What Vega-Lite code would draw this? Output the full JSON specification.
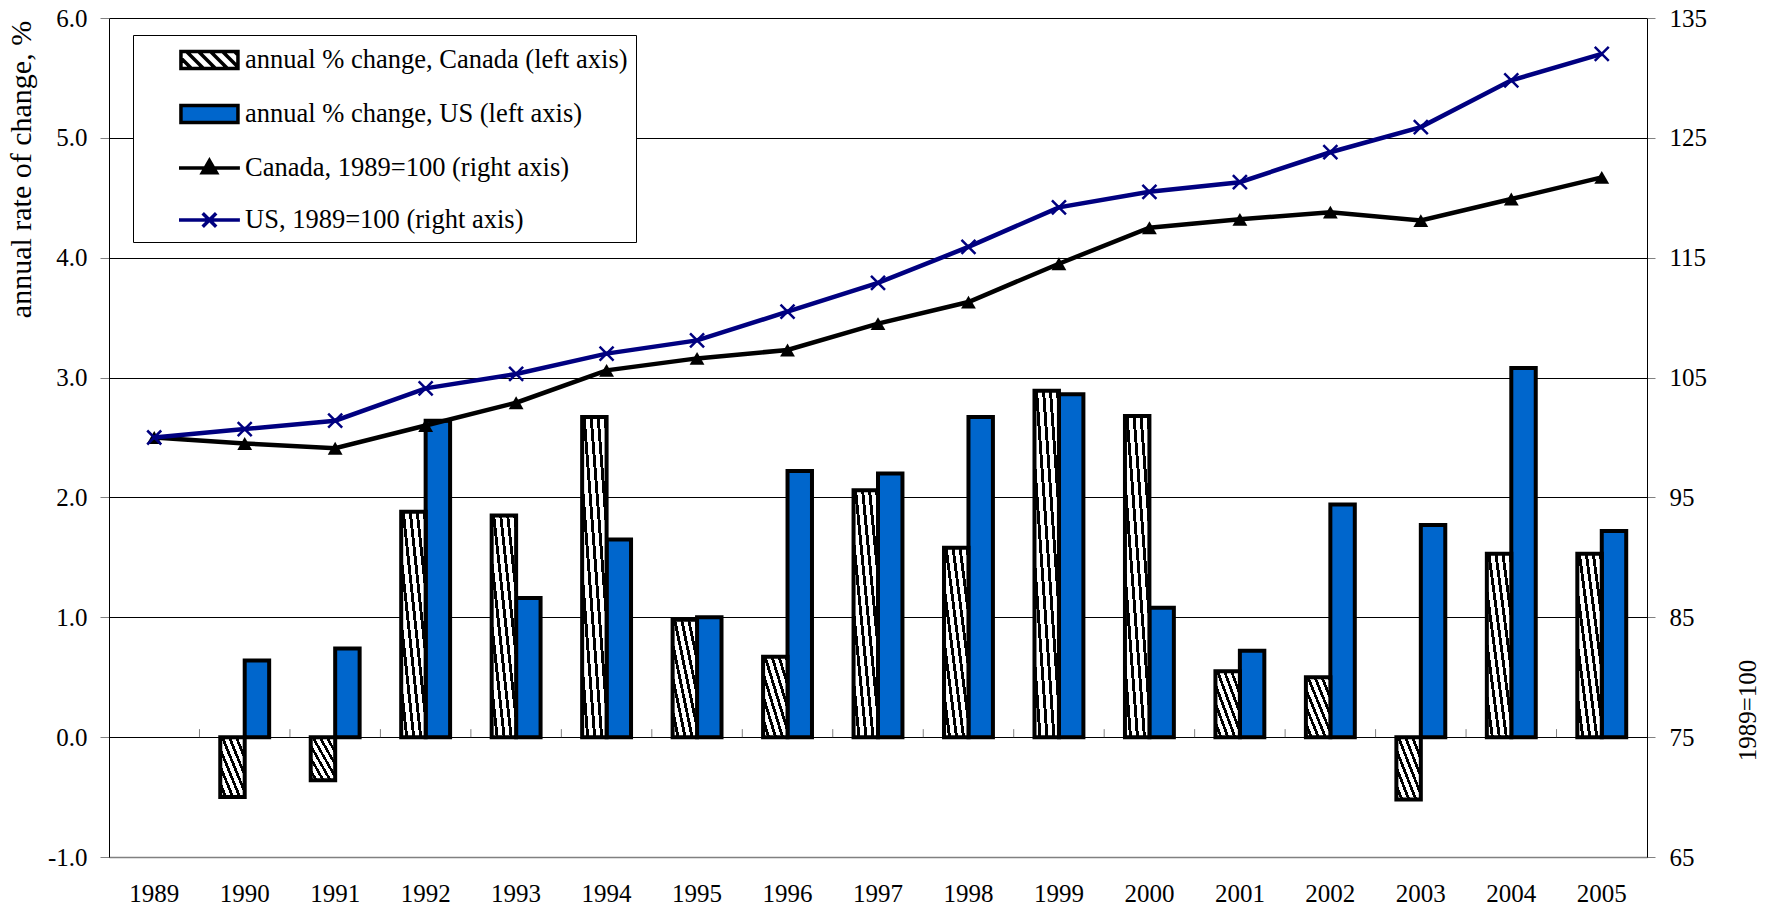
{
  "$schema": "https://vega.github.io/schema/vega-lite/v6.json",
  "autosize": {"type": "none"},
  "padding": {"left": 109, "top": 18, "right": 130, "bottom": 55},
  "width": 1538,
  "height": 839,
  "background": "white",
  "datasets": {
    "bars": [
      {"year": "1990", "series": "annual % change, Canada (left axis)", "pct": -0.50},
      {"year": "1991", "series": "annual % change, Canada (left axis)", "pct": -0.36},
      {"year": "1992", "series": "annual % change, Canada (left axis)", "pct": 1.88},
      {"year": "1993", "series": "annual % change, Canada (left axis)", "pct": 1.85},
      {"year": "1994", "series": "annual % change, Canada (left axis)", "pct": 2.67},
      {"year": "1995", "series": "annual % change, Canada (left axis)", "pct": 0.98},
      {"year": "1996", "series": "annual % change, Canada (left axis)", "pct": 0.67},
      {"year": "1997", "series": "annual % change, Canada (left axis)", "pct": 2.06},
      {"year": "1998", "series": "annual % change, Canada (left axis)", "pct": 1.58},
      {"year": "1999", "series": "annual % change, Canada (left axis)", "pct": 2.89},
      {"year": "2000", "series": "annual % change, Canada (left axis)", "pct": 2.68},
      {"year": "2001", "series": "annual % change, Canada (left axis)", "pct": 0.55},
      {"year": "2002", "series": "annual % change, Canada (left axis)", "pct": 0.50},
      {"year": "2003", "series": "annual % change, Canada (left axis)", "pct": -0.52},
      {"year": "2004", "series": "annual % change, Canada (left axis)", "pct": 1.53},
      {"year": "2005", "series": "annual % change, Canada (left axis)", "pct": 1.53},
      {"year": "1990", "series": "annual % change, US (left axis)", "pct": 0.64},
      {"year": "1991", "series": "annual % change, US (left axis)", "pct": 0.74},
      {"year": "1992", "series": "annual % change, US (left axis)", "pct": 2.64},
      {"year": "1993", "series": "annual % change, US (left axis)", "pct": 1.16},
      {"year": "1994", "series": "annual % change, US (left axis)", "pct": 1.65},
      {"year": "1995", "series": "annual % change, US (left axis)", "pct": 1.00},
      {"year": "1996", "series": "annual % change, US (left axis)", "pct": 2.22},
      {"year": "1997", "series": "annual % change, US (left axis)", "pct": 2.20},
      {"year": "1998", "series": "annual % change, US (left axis)", "pct": 2.67},
      {"year": "1999", "series": "annual % change, US (left axis)", "pct": 2.86},
      {"year": "2000", "series": "annual % change, US (left axis)", "pct": 1.08},
      {"year": "2001", "series": "annual % change, US (left axis)", "pct": 0.72},
      {"year": "2002", "series": "annual % change, US (left axis)", "pct": 1.94},
      {"year": "2003", "series": "annual % change, US (left axis)", "pct": 1.77},
      {"year": "2004", "series": "annual % change, US (left axis)", "pct": 3.08},
      {"year": "2005", "series": "annual % change, US (left axis)", "pct": 1.72}
    ],
    "lines": [
      {"year": "1989", "series": "Canada, 1989=100 (right axis)", "index": 100.0},
      {"year": "1990", "series": "Canada, 1989=100 (right axis)", "index": 99.5},
      {"year": "1991", "series": "Canada, 1989=100 (right axis)", "index": 99.1},
      {"year": "1992", "series": "Canada, 1989=100 (right axis)", "index": 101.0},
      {"year": "1993", "series": "Canada, 1989=100 (right axis)", "index": 102.9},
      {"year": "1994", "series": "Canada, 1989=100 (right axis)", "index": 105.6},
      {"year": "1995", "series": "Canada, 1989=100 (right axis)", "index": 106.6},
      {"year": "1996", "series": "Canada, 1989=100 (right axis)", "index": 107.3},
      {"year": "1997", "series": "Canada, 1989=100 (right axis)", "index": 109.5},
      {"year": "1998", "series": "Canada, 1989=100 (right axis)", "index": 111.3},
      {"year": "1999", "series": "Canada, 1989=100 (right axis)", "index": 114.5},
      {"year": "2000", "series": "Canada, 1989=100 (right axis)", "index": 117.5},
      {"year": "2001", "series": "Canada, 1989=100 (right axis)", "index": 118.2},
      {"year": "2002", "series": "Canada, 1989=100 (right axis)", "index": 118.8},
      {"year": "2003", "series": "Canada, 1989=100 (right axis)", "index": 118.1},
      {"year": "2004", "series": "Canada, 1989=100 (right axis)", "index": 119.9},
      {"year": "2005", "series": "Canada, 1989=100 (right axis)", "index": 121.7},
      {"year": "1989", "series": "US, 1989=100 (right axis)", "index": 100.0},
      {"year": "1990", "series": "US, 1989=100 (right axis)", "index": 100.7},
      {"year": "1991", "series": "US, 1989=100 (right axis)", "index": 101.4},
      {"year": "1992", "series": "US, 1989=100 (right axis)", "index": 104.1},
      {"year": "1993", "series": "US, 1989=100 (right axis)", "index": 105.3},
      {"year": "1994", "series": "US, 1989=100 (right axis)", "index": 107.0},
      {"year": "1995", "series": "US, 1989=100 (right axis)", "index": 108.1},
      {"year": "1996", "series": "US, 1989=100 (right axis)", "index": 110.5},
      {"year": "1997", "series": "US, 1989=100 (right axis)", "index": 112.9},
      {"year": "1998", "series": "US, 1989=100 (right axis)", "index": 115.9},
      {"year": "1999", "series": "US, 1989=100 (right axis)", "index": 119.2},
      {"year": "2000", "series": "US, 1989=100 (right axis)", "index": 120.5},
      {"year": "2001", "series": "US, 1989=100 (right axis)", "index": 121.3},
      {"year": "2002", "series": "US, 1989=100 (right axis)", "index": 123.8},
      {"year": "2003", "series": "US, 1989=100 (right axis)", "index": 125.9},
      {"year": "2004", "series": "US, 1989=100 (right axis)", "index": 129.8},
      {"year": "2005", "series": "US, 1989=100 (right axis)", "index": 132.0}
    ]
  },
  "layer": [
    {
      "layer": [
        {
          "data": {"name": "bars"},
          "transform": [{"filter": "datum.series === 'annual % change, US (left axis)'"}],
          "mark": {"type": "bar", "fill": "#0066CC", "stroke": "#000000", "strokeWidth": 4},
          "encoding": {
            "x": {
              "field": "year", "type": "ordinal",
              "scale": {"domain": ["1989","1990","1991","1992","1993","1994","1995","1996","1997","1998","1999","2000","2001","2002","2003","2004","2005"], "paddingInner": 0, "paddingOuter": 0},
              "axis": {"orient": "bottom", "title": null, "ticks": false, "tickSize": 0, "labelAngle": 0, "labelPadding": 24, "labelFont": "Liberation Serif", "labelFontSize": 25, "labelColor": "#000000", "domainColor": "#808080", "domainWidth": 1.5, "grid": false}
            },
            "xOffset": {
              "field": "series", "type": "nominal",
              "scale": {"domain": ["annual % change, Canada (left axis)", "annual % change, US (left axis)"], "paddingInner": 0, "paddingOuter": 0.85}
            },
            "y": {
              "field": "pct", "type": "quantitative",
              "scale": {"domain": [-1, 6], "nice": false, "zero": false},
              "axis": {
                "orient": "left",
                "values": [-1, 0, 1, 2, 3, 4, 5, 6],
                "labelExpr": "replace(format(datum.value, '.1f'), '\u2212', '-')",
                "grid": true, "gridColor": "#000000", "gridWidth": 1,
                "tickSize": 9, "tickColor": "#808080", "domainColor": "#000000",
                "labelPadding": 13, "labelFont": "Liberation Serif", "labelFontSize": 25, "labelColor": "#000000",
                "title": "annual rate of change, %",
                "titleFont": "Liberation Serif", "titleFontSize": 30, "titleFontWeight": "normal", "titleColor": "#000000",
                "titleAngle": 270, "titleAlign": "center", "titleBaseline": "middle",
                "titleX": -88, "titleY": 151
              }
            },
            "y2": {"datum": 0}
          }
        },
        {
          "data": {"name": "bars"},
          "transform": [{"filter": "datum.series === 'annual % change, Canada (left axis)'"}],
          "mark": {
            "type": "bar", "stroke": "#000000", "strokeWidth": 4,
            "fill": {
              "gradient": "linear", "x1": 1, "y1": 0, "x2": 0, "y2": 1,
              "stops": [
                {"offset": 0, "color": "#000000"}, {"offset": 0.06, "color": "#000000"},
                {"offset": 0.06, "color": "#ffffff"}, {"offset": 0.1429, "color": "#ffffff"},
                {"offset": 0.1429, "color": "#000000"}, {"offset": 0.2029, "color": "#000000"},
                {"offset": 0.2029, "color": "#ffffff"}, {"offset": 0.2857, "color": "#ffffff"},
                {"offset": 0.2857, "color": "#000000"}, {"offset": 0.3457, "color": "#000000"},
                {"offset": 0.3457, "color": "#ffffff"}, {"offset": 0.4286, "color": "#ffffff"},
                {"offset": 0.4286, "color": "#000000"}, {"offset": 0.4886, "color": "#000000"},
                {"offset": 0.4886, "color": "#ffffff"}, {"offset": 0.5714, "color": "#ffffff"},
                {"offset": 0.5714, "color": "#000000"}, {"offset": 0.6314, "color": "#000000"},
                {"offset": 0.6314, "color": "#ffffff"}, {"offset": 0.7143, "color": "#ffffff"},
                {"offset": 0.7143, "color": "#000000"}, {"offset": 0.7743, "color": "#000000"},
                {"offset": 0.7743, "color": "#ffffff"}, {"offset": 0.8571, "color": "#ffffff"},
                {"offset": 0.8571, "color": "#000000"}, {"offset": 0.9171, "color": "#000000"},
                {"offset": 0.9171, "color": "#ffffff"}, {"offset": 1, "color": "#ffffff"}
              ]
            }
          },
          "encoding": {
            "x": {"field": "year", "type": "ordinal"},
            "xOffset": {"field": "series", "type": "nominal"},
            "y": {"field": "pct", "type": "quantitative"},
            "y2": {"datum": 0}
          }
        },
        {
          "data": {"name": "bars"},
          "transform": [{"filter": "datum.series === 'annual % change, Canada (left axis)'"}],
          "mark": {"type": "rule", "stroke": "#808080", "strokeWidth": 1},
          "encoding": {
            "x": {"field": "year", "type": "ordinal", "bandPosition": 0},
            "y": {"datum": 0, "type": "quantitative"},
            "y2": {"datum": 0.067}
          }
        }
      ]
    },
    {
      "layer": [
        {
          "data": {"name": "lines"},
          "transform": [{"filter": "datum.series === 'Canada, 1989=100 (right axis)'"}],
          "mark": {"type": "line", "stroke": "#000000", "strokeWidth": 4.5},
          "encoding": {
            "x": {"field": "year", "type": "ordinal"},
            "y": {
              "field": "index", "type": "quantitative",
              "scale": {"domain": [65, 135], "nice": false, "zero": false},
              "axis": {
                "orient": "right",
                "values": [65, 75, 85, 95, 105, 115, 125, 135],
                "grid": false, "tickSize": 8, "tickColor": "#808080", "domainColor": "#000000",
                "labelPadding": 14, "labelFont": "Liberation Serif", "labelFontSize": 25, "labelColor": "#000000",
                "title": "1989=100",
                "titleFont": "Liberation Serif", "titleFontSize": 25, "titleFontWeight": "normal", "titleColor": "#000000",
                "titleAngle": 270, "titleAlign": "center", "titleBaseline": "middle",
                "titleX": 100, "titleY": 692
              }
            }
          }
        },
        {
          "data": {"name": "lines"},
          "transform": [{"filter": "datum.series === 'Canada, 1989=100 (right axis)'"}],
          "mark": {"type": "point", "shape": "triangle-up", "filled": true, "fill": "#000000", "stroke": null, "size": 220, "opacity": 1},
          "encoding": {
            "x": {"field": "year", "type": "ordinal"},
            "y": {"field": "index", "type": "quantitative"}
          }
        },
        {
          "data": {"name": "lines"},
          "transform": [{"filter": "datum.series === 'US, 1989=100 (right axis)'"}],
          "mark": {"type": "line", "stroke": "#000080", "strokeWidth": 4.5},
          "encoding": {
            "x": {"field": "year", "type": "ordinal"},
            "y": {"field": "index", "type": "quantitative"}
          }
        },
        {
          "data": {"name": "lines"},
          "transform": [{"filter": "datum.series === 'US, 1989=100 (right axis)'"}],
          "mark": {"type": "point", "shape": "M-1,-1L1,1M-1,1L1,-1", "filled": false, "stroke": "#000080", "strokeWidth": 2.5, "size": 196, "opacity": 1},
          "encoding": {
            "x": {"field": "year", "type": "ordinal"},
            "y": {"field": "index", "type": "quantitative"}
          }
        },
        {
          "data": {"name": "lines"},
          "transform": [{"filter": "false"}],
          "mark": {"type": "point", "filled": true, "opacity": 1, "strokeWidth": 3.5},
          "encoding": {
            "shape": {
              "field": "series", "type": "nominal",
              "scale": {
                "domain": ["annual % change, Canada (left axis)", "annual % change, US (left axis)", "Canada, 1989=100 (right axis)", "US, 1989=100 (right axis)"],
                "range": [
                  "M1.53,-0.567H5.33V0.567H1.53ZM1.53,-0.137L2.234,0.567M1.9,-0.567L3.034,0.567M2.7,-0.567L3.834,0.567M3.5,-0.567L4.634,0.567M4.3,-0.567L5.33,0.463M5.1,-0.567L5.33,-0.337",
                  "M1.53,-0.567H5.33V0.567H1.53Z",
                  "M1.4,0H5.46M3.43,-0.5L3.9,0.32L2.96,0.32Z",
                  "M1.4,0H5.46M2.98,-0.45L3.88,0.45M2.98,0.45L3.88,-0.45"
                ]
              },
              "legend": {"title": null, "labelExpr": "datum.label + '\u2003\u2003\u2002'"}
            },
            "fill": {
              "field": "series", "type": "nominal",
              "scale": {
                "domain": ["annual % change, Canada (left axis)", "annual % change, US (left axis)", "Canada, 1989=100 (right axis)", "US, 1989=100 (right axis)"],
                "range": ["#ffffff", "#0066CC", "#000000", "#000080"]
              },
              "legend": {"title": null, "labelExpr": "datum.label + '\u2003\u2003\u2002'"}
            },
            "stroke": {
              "field": "series", "type": "nominal",
              "scale": {
                "domain": ["annual % change, Canada (left axis)", "annual % change, US (left axis)", "Canada, 1989=100 (right axis)", "US, 1989=100 (right axis)"],
                "range": ["#000000", "#000000", "#000000", "#000080"]
              },
              "legend": {"title": null, "labelExpr": "datum.label + '\u2003\u2003\u2002'"}
            }
          }
        }
      ]
    }
  ],
  "resolve": {"scale": {"y": "independent"}},
  "config": {
    "font": "Liberation Serif",
    "view": {"stroke": null},
    "axis": {"titleFont": "Liberation Serif", "labelFont": "Liberation Serif", "titleFontWeight": "normal"},
    "axisRight": {"titleFont": "Liberation Serif"},
    "legend": {
      "orient": "none",
      "legendX": 24,
      "legendY": 17,
      "padding": 8,
      "fillColor": "#ffffff",
      "strokeColor": "#000000",
      "strokeWidth": 1,
      "labelFont": "Liberation Serif",
      "labelFontSize": 26.5,
      "labelColor": "#000000",
      "labelLimit": 0,
      "labelOffset": 70,
      "symbolSize": 900,
      "rowPadding": 21,
      "symbolFillColor": "#ffffff",
      "symbolStrokeColor": "#000000",
      "symbolOpacity": 1,
      "symbolStrokeWidth": 3.5
    }
  }
}
